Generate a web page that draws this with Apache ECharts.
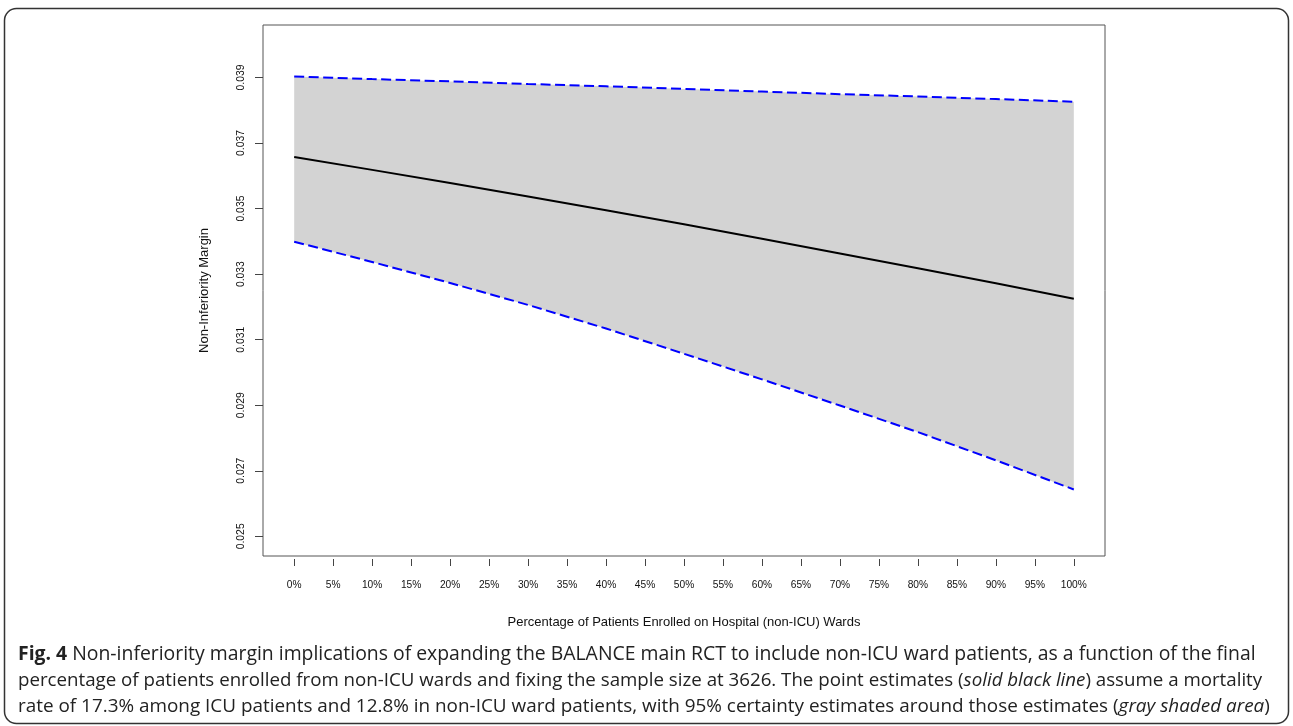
<!DOCTYPE html>
<html>
<head>
<meta charset="utf-8">
<script src="https://cdn.jsdelivr.net/npm/echarts@6/dist/echarts.min.js"></script>
<style>
html,body{margin:0;padding:0;background:#fff;}
#chart{width:1293px;height:726px;}
</style>
</head>
<body>
<div id="chart"></div>
<script>
// ---- data ----
const xPct = [0, 10, 20, 30, 40, 50, 60, 70, 80, 90, 100];
const pointEst = [0.03657, 0.03618, 0.03578, 0.03537, 0.03495, 0.03452, 0.03408, 0.03363, 0.03318, 0.03272, 0.03225];
const lowerCI  = [0.03399, 0.03337, 0.03273, 0.03206, 0.03134, 0.03057, 0.02979, 0.02899, 0.02818, 0.02732, 0.02643];
const upperCI  = [0.03903, 0.03895, 0.03888, 0.03880, 0.03873, 0.03865, 0.03857, 0.03849, 0.03842, 0.03834, 0.03826];
const xTicks = [0, 5, 10, 15, 20, 25, 30, 35, 40, 45, 50, 55, 60, 65, 70, 75, 80, 85, 90, 95, 100];
const yTicks = [0.025, 0.027, 0.029, 0.031, 0.033, 0.035, 0.037, 0.039];
const xTitle = 'Percentage of Patients Enrolled on Hospital (non-ICU) Wards';
const yTitle = 'Non-Inferiority Margin';
const captionLines = [
  '{b|Fig. 4} Non-inferiority margin implications of expanding the BALANCE main RCT to include non-ICU ward patients, as a function of the final',
  'percentage of patients enrolled from non-ICU wards and fixing the sample size at 3626. The point estimates ({i|solid black line}) assume a mortality',
  'rate of 17.3% among ICU patients and 12.8% in non-ICU ward patients, with 95% certainty estimates around those estimates ({i|gray shaded area})'
];

const pair = (ys) => xPct.map((x, i) => [x, ys[i]]);
const bandData = xPct.map((x, i) => [x, lowerCI[i], upperCI[i]]);

const capFont = 'Open Sans';
const capSizes = [19.4, 18.72, 18.9];
const capColor = '#222';
const chartFont = 'Liberation Sans, Arial, sans-serif';

function renderBand(params, api) {
  if (params.dataIndex !== 0) return null;
  const n = bandData.length;
  const top = [], bot = [];
  for (let i = 0; i < n; i++) {
    top.push(api.coord([bandData[i][0], bandData[i][2]]));
    bot.push(api.coord([bandData[i][0], bandData[i][1]]));
  }
  return {
    type: 'polygon',
    shape: {points: top.concat(bot.reverse())},
    style: {fill: '#d3d3d3', stroke: null}
  };
}

const chart = echarts.init(document.getElementById('chart'), null, {renderer: 'canvas'});
chart.setOption({
  backgroundColor: '#fff',
  animation: false,
  title: captionLines.map((t, k) => ({
    text: t,
    left: 18,
    top: 645 + k * 26,
    padding: 0,
    textStyle: {
      fontFamily: capFont, fontSize: capSizes[k], fontWeight: 'normal', color: capColor,
      rich: {
        b: {fontFamily: capFont, fontSize: capSizes[k], fontWeight: 'bold', color: capColor},
        i: {fontFamily: capFont, fontSize: capSizes[k], fontStyle: 'italic', color: capColor}
      }
    }
  })),
  graphic: [{
    type: 'rect',
    shape: {x: 4.5, y: 8.5, width: 1284, height: 715, r: 12},
    style: {fill: 'none', stroke: '#333', lineWidth: 1.5},
    silent: true, z: 100
  }],
  grid: {
    left: 263, top: 25, right: 188, bottom: 170,
    show: true, borderColor: '#555', borderWidth: 1, backgroundColor: 'transparent'
  },
  xAxis: {
    type: 'value', min: -4, max: 104, offset: 3,
    name: xTitle, nameLocation: 'middle', nameGap: 57,
    nameTextStyle: {fontFamily: chartFont, fontSize: 13, color: '#111'},
    axisLine: {show: false, onZero: false},
    axisTick: {show: true, length: 7, customValues: xTicks, lineStyle: {color: '#444', width: 1}},
    axisLabel: {customValues: xTicks, formatter: v => v + '%', margin: 21,
      fontFamily: chartFont, fontSize: 10.2, color: '#111'},
    splitLine: {show: false}
  },
  yAxis: {
    type: 'value', min: 0.0244, max: 0.0406,
    name: yTitle, nameLocation: 'middle', nameGap: 52,
    nameTextStyle: {fontFamily: chartFont, fontSize: 13, color: '#111'},
    axisLine: {show: false, onZero: false},
    axisTick: {show: true, length: 8, customValues: yTicks, lineStyle: {color: '#444', width: 1}},
    axisLabel: {customValues: yTicks, rotate: 90, formatter: v => v.toFixed(3), margin: 17,
      fontFamily: chartFont, fontSize: 10.4, color: '#111'},
    splitLine: {show: false}
  },
  series: [
    {type: 'custom', name: 'band', data: bandData, renderItem: renderBand,
      encode: {x: 0, y: [1, 2]}, silent: true, z: 1},
    {type: 'line', name: 'upper', data: pair(upperCI), symbol: 'none', z: 3,
      lineStyle: {color: '#0000ff', width: 2, type: [10, 4.5]}},
    {type: 'line', name: 'lower', data: pair(lowerCI), symbol: 'none', z: 3,
      lineStyle: {color: '#0000ff', width: 2, type: [10, 4.5]}},
    {type: 'line', name: 'point', data: pair(pointEst), symbol: 'none', z: 4,
      lineStyle: {color: '#000', width: 2}}
  ]
});
</script>
</body>
</html>
